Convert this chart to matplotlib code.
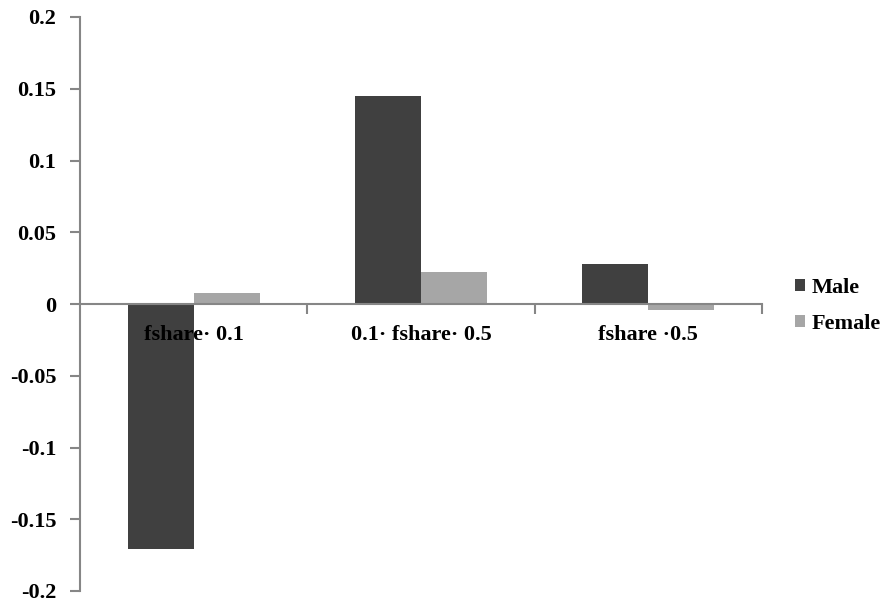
import matplotlib
matplotlib.use("Agg")
import matplotlib.pyplot as plt
from matplotlib.ticker import FixedLocator

# values
categories = ["fshare\u00b7 0.1", "0.1\u00b7 fshare\u00b7 0.5", "fshare \u00b70.5"]
male = [-0.171, 0.145, 0.028]
female = [0.008, 0.022, -0.004]
yticks = [0.2, 0.15, 0.1, 0.05, 0, -0.05, -0.1, -0.15, -0.2]
ytick_labels = ["0.2", "0.15", "0.1", "0.05", "0", "-0.05", "-0.1", "-0.15", "-0.2"]

plt.rcParams['font.family'] = ['Liberation Serif', 'DejaVu Serif']
plt.rcParams['font.weight'] = 'bold'

fig = plt.figure(figsize=(8.83, 6.03), dpi=100)
ax = fig.add_axes([80 / 883, 12 / 603, 682 / 883, 574 / 603])

x = range(len(categories))
w = 0.29
ax.bar([i - w / 2 for i in x], male, width=w, color='#404040', label='Male')
ax.bar([i + w / 2 for i in x], female, width=w, color='#a6a6a6', label='Female')

ax.set_xlim(-0.5, len(categories) - 0.5)
ax.set_ylim(-0.2, 0.2)
ax.set_axisbelow(False)

axis_col = '#868686'
for s in ['top', 'right']:
    ax.spines[s].set_visible(False)
ax.spines['bottom'].set_position(('data', 0))
ax.spines['bottom'].set_color(axis_col)
ax.spines['left'].set_color(axis_col)
ax.spines['bottom'].set_linewidth(1.5)
ax.spines['left'].set_linewidth(1.5)

fs = 16
ax.set_yticks(yticks)
ax.set_yticklabels(ytick_labels, fontsize=fs)
ax.tick_params(axis='y', direction='out', length=7, width=1.5, color=axis_col, pad=10)

ax.set_xticks(list(x))
ax.set_xticklabels(categories, fontsize=fs)
ax.tick_params(axis='x', which='major', length=0, pad=15)
ax.xaxis.set_minor_locator(FixedLocator([0.5, 1.5, 2.5]))
ax.tick_params(axis='x', which='minor', direction='out', length=7, width=1.5, color=axis_col)

fig.legend(loc='center left', bbox_to_anchor=(795 / 883, 1 - 306 / 603), frameon=False,
           fontsize=fs, handlelength=0.45, handleheight=0.45, handletextpad=0.3,
           labelspacing=0.75, borderaxespad=0, borderpad=0)

fig.savefig('out.png', dpi=100)
